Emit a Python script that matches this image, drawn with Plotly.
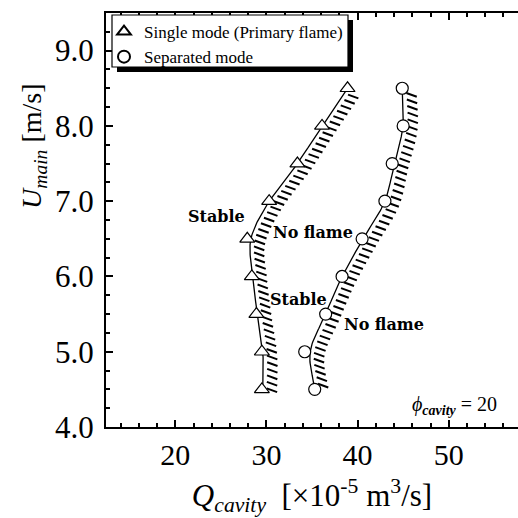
import numpy as np
import plotly.graph_objects as go

# ---------------- data ----------------
U_levels = [4.5, 5.0, 5.5, 6.0, 6.5, 7.0, 7.5, 8.0, 8.5]
single_q = [29.5, 29.5, 28.9, 28.4, 27.9, 30.3, 33.4, 36.1, 38.9]
separated_q = [35.3, 34.2, 36.5, 38.3, 40.5, 43.0, 43.8, 45.0, 44.9]
single_boundary_q = [29.6, 29.6, 29.0, 28.5, 28.3, 30.3, 33.4, 36.1, 38.9]
separated_boundary_q = [35.3, 34.8, 36.5, 38.3, 40.6, 43.0, 44.0, 45.0, 44.9]
series_names = ["Single mode (Primary flame)", "Separated mode"]
x_tick_vals = [20, 30, 40, 50]
y_tick_vals = [4.0, 5.0, 6.0, 7.0, 8.0, 9.0]
region_text = ["Stable", "No flame", "Stable", "No flame"]
region_q = [24.5, 35.1, 33.5, 42.9]
region_u = [6.80, 6.58, 5.69, 5.36]

# ---------------- layout geometry ----------------
W, H = 518, 518
ML, MR, MT, MB = 106, 0, 13, 91
XR = [12.4, 57.6]
YR = [4.0, 9.5]
PW, PH = W - ML - MR, H - MT - MB
kx = PW / (XR[1] - XR[0])
ky = PH / (YR[1] - YR[0])


def to_px(q, u):
    return (np.asarray(q) - XR[0]) * kx, (YR[1] - np.asarray(u)) * ky


def to_data(X, Y):
    return np.asarray(X) / kx + XR[0], YR[1] - np.asarray(Y) / ky


def catmull(px, py, n=24):
    P = np.column_stack([px, py])
    ext = np.vstack([2 * P[0] - P[1], P, 2 * P[-1] - P[-2]])
    pts = []
    for i in range(1, len(ext) - 2):
        p0, p1, p2, p3 = ext[i - 1:i + 3]
        for t in np.linspace(0, 1, n, endpoint=False):
            t2, t3 = t * t, t * t * t
            pts.append(0.5 * ((2 * p1) + (-p0 + p2) * t
                              + (2 * p0 - 5 * p1 + 4 * p2 - p3) * t2
                              + (-p0 + 3 * p1 - 3 * p2 + p3) * t3))
    pts.append(ext[-2])
    return np.array(pts)


def curve_and_hatch(qs, us, spacing=6.5, off=4.0, length=11.0, ang=20.0):
    X, Y = to_px(qs, us)
    C = catmull(X, Y)[::-1]  # top to bottom
    d = np.diff(C, axis=0)
    seg = np.hypot(d[:, 0], d[:, 1])
    s = np.concatenate([[0], np.cumsum(seg)])
    L = s[-1]
    hx, hy = [], []
    a = np.radians(ang)
    dirv = np.array([np.cos(a), np.sin(a)])
    for sv in np.arange(5.0, L + 0.1, spacing):
        i = max(min(np.searchsorted(s, sv) - 1, len(seg) - 1), 0)
        f = (sv - s[i]) / seg[i] if seg[i] > 0 else 0
        p = C[i] + f * d[i]
        t = d[i] / seg[i]
        nrm = np.array([t[1], -t[0]])
        if nrm[0] < 0:
            nrm = -nrm
        p0 = p + off * nrm
        p1 = p0 + length * dirv
        q0, u0 = to_data(p0[0], p0[1])
        q1, u1 = to_data(p1[0], p1[1])
        hx += [q0, q1, None]
        hy += [u0, u1, None]
    cq, cu = to_data(C[:, 0], C[:, 1])
    return cq, cu, hx, hy


fig = go.Figure()
serif = "Liberation Serif"

for bq, mq, sym, name in [
    (single_boundary_q, single_q, "triangle-up", series_names[0]),
    (separated_boundary_q, separated_q, "circle", series_names[1]),
]:
    cq, cu, hx, hy = curve_and_hatch(bq, U_levels)
    fig.add_trace(go.Scatter(x=hx, y=hy, mode="lines", showlegend=False,
                             line=dict(color="black", width=2), hoverinfo="skip"))
    fig.add_trace(go.Scatter(x=cq, y=cu, mode="lines", showlegend=False,
                             line=dict(color="black", width=1.3), hoverinfo="skip"))
    fig.add_trace(go.Scatter(x=mq, y=U_levels, mode="markers", name=name,
                             marker=dict(symbol=sym, size=12 if sym == "circle" else 13,
                                         color="white",
                                         line=dict(color="black", width=1.2))))

# region labels
for t, q, u in zip(region_text, region_q, region_u):
    fig.add_annotation(x=q, y=u, text="<b>" + t + "</b>", showarrow=False,
                       font=dict(family="DejaVu Serif", size=16, color="black"))

fig.add_annotation(x=50.6, y=4.29, showarrow=False,
                   text="<i>ϕ</i><sub><b><i>cavity</i></b></sub> = 20",
                   font=dict(family=serif, size=20, color="black"))


def pxp(X):
    return (X - ML) / PW


def pyp(Y):
    return (MT + PH - Y) / PH


# y title
fig.add_annotation(xref="paper", yref="paper", x=pxp(33), y=pyp(146),
                   xanchor="center", yanchor="middle", textangle=-90, showarrow=False,
                   text="<i>U</i><sub><i>main</i></sub> [m/s]",
                   font=dict(family=serif, size=28, color="black"))

# legend frame with drop shadow
fig.add_shape(type="rect", xref="paper", yref="paper",
              x0=pxp(117), x1=pxp(353), y0=pyp(72), y1=pyp(20),
              fillcolor="black", line=dict(width=0), layer="above")
fig.add_shape(type="rect", xref="paper", yref="paper",
              x0=pxp(112), x1=pxp(348), y0=pyp(67), y1=pyp(15),
              fillcolor="white", line=dict(color="black", width=1.2), layer="above")

fig.update_layout(
    width=W, height=H,
    margin=dict(l=ML, r=MR, t=MT, b=MB, pad=0),
    paper_bgcolor="white", plot_bgcolor="white",
    showlegend=True,
    legend=dict(x=pxp(104), y=pyp(14), xanchor="left", yanchor="top",
                bgcolor="rgba(0,0,0,0)", borderwidth=0,
                font=dict(family=serif, size=17, color="black"),
                tracegroupgap=0, itemsizing="constant"),
    xaxis=dict(range=XR, showline=True, linewidth=2, linecolor="black",
               mirror="allticks", ticks="inside", ticklen=7, tickwidth=1.5,
               tickcolor="black", tickvals=x_tick_vals, showgrid=False, zeroline=False,
               tickfont=dict(family=serif, size=30, color="black"),
               minor=dict(dtick=2, tick0=0, ticks="inside", ticklen=4, tickwidth=1.5,
                          tickcolor="black", showgrid=False),
               title=dict(text="<i>Q</i><sub><i>cavity</i></sub>  [×10<sup>-5</sup> m<sup>3</sup>/s]",
                          font=dict(family=serif, size=31, color="black"), standoff=14)),
    yaxis=dict(range=YR, showline=True, linewidth=2, linecolor="black",
               mirror=False, ticks="inside", ticklen=7, tickwidth=1.5,
               tickcolor="black", tickvals=y_tick_vals, tickformat=".1f",
               showgrid=False, zeroline=False, ticklabelstandoff=4,
               tickfont=dict(family=serif, size=31, color="black"),
               minor=dict(dtick=0.25, tick0=4, ticks="inside", ticklen=4, tickwidth=1.5,
                          tickcolor="black", showgrid=False)),
)

fig.write_html("out.html")
